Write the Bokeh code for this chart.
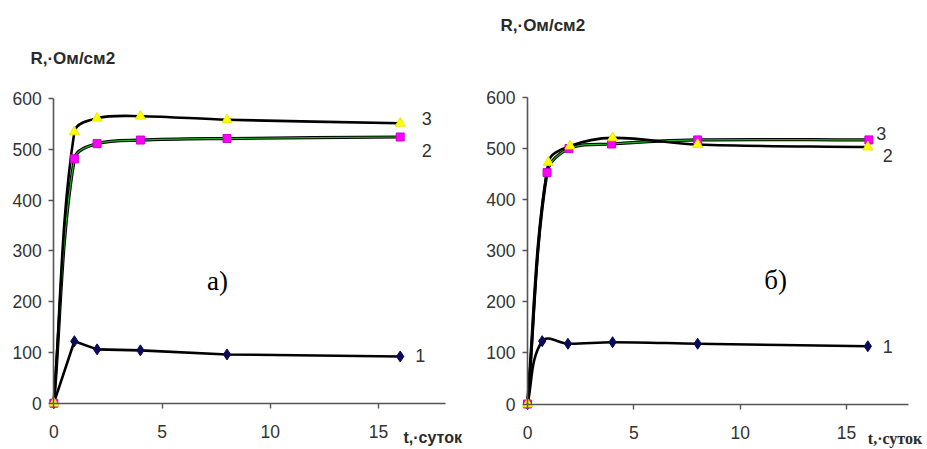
import math
from bokeh.plotting import figure
from bokeh.models import Range1d, Label, FixedTicker
from bokeh.layouts import row
from bokeh.embed import file_html
from bokeh.resources import INLINE

# ---------------- data ----------------
# panel a)
days_a = [0, 0.95, 2, 4, 8, 16]
r1_a = [0, 122, 106, 104, 96, 92]
r2_a = [0, 481, 511, 518, 521, 524]
r3_a = [0, 534, 561, 565, 558, 551]

# panel б)
days1_b = [0, 0.69, 1.9, 4, 8, 16]
r1_b = [0, 123, 118, 121, 118, 113]
days2_b = [0, 0.92, 1.95, 3.95, 8, 16.05]
r2_b = [0, 453, 500, 509, 517, 517]
days3_b = [0, 0.98, 2, 4, 8, 16]
r3_b = [0, 473, 505, 521, 508, 503]

x_ticks = [0, 5, 10, 15]
y_ticks = [0, 100, 200, 300, 400, 500, 600]
y_title = "R,·Ом/см2"
x_title = "t,·суток"
panel_names = ["а)", "б)"]
series_names = ["1", "2", "3"]

# ---------------- layout / style ----------------
H = 449
SANS = "Liberation Sans"
SERIF = "Liberation Serif"
TXT = "#333333"


def smooth(xs, ys, sx, sy, k=0.34):
    """Bezier segments (Excel-like smoothed line) computed in screen space."""
    P = [(x * sx, y * sy) for x, y in zip(xs, ys)]
    n = len(P)
    dirs = []
    for i in range(n):
        a = P[max(i - 1, 0)]
        b = P[min(i + 1, n - 1)]
        dx, dy = b[0] - a[0], b[1] - a[1]
        L = math.hypot(dx, dy) or 1.0
        dirs.append((dx / L, dy / L))
    d = dict(x0=[], y0=[], x1=[], y1=[], cx0=[], cy0=[], cx1=[], cy1=[])
    for i in range(n - 1):
        p, q = P[i], P[i + 1]
        L = math.hypot(q[0] - p[0], q[1] - p[1])
        c0 = (p[0] + dirs[i][0] * L * k, p[1] + dirs[i][1] * L * k)
        c1 = (q[0] - dirs[i + 1][0] * L * k, q[1] - dirs[i + 1][1] * L * k)
        d["x0"].append(p[0] / sx); d["y0"].append(p[1] / sy)
        d["x1"].append(q[0] / sx); d["y1"].append(q[1] / sy)
        d["cx0"].append(c0[0] / sx); d["cy0"].append(c0[1] / sy)
        d["cx1"].append(c1[0] / sx); d["cy1"].append(c1[1] / sy)
    return d


def make_panel(width, ox, oy, sx, sy, x_end):
    """ox, oy: pixel position of the data origin inside the figure; sx, sy: px per unit."""
    p = figure(width=width, height=H,
               x_range=Range1d(-ox / sx, (width - ox) / sx),
               y_range=Range1d(-(H - oy) / sy, oy / sy),
               output_backend="svg", toolbar_location=None,
               min_border_left=0, min_border_right=0,
               min_border_top=0, min_border_bottom=0)
    p.outline_line_color = None
    p.grid.visible = False
    p.background_fill_color = "white"
    p.border_fill_color = "white"
    for ax in (p.xaxis[0], p.yaxis[0]):
        ax.fixed_location = 0
        ax.axis_line_color = "#555555"
        ax.axis_line_width = 1.6
        ax.major_tick_line_color = "#555555"
        ax.major_tick_line_width = 1.4
        ax.major_tick_in = 0
        ax.major_tick_out = 5
        ax.minor_tick_line_color = None
        ax.major_label_text_font = SANS
        ax.major_label_text_font_size = "17.5px"
        ax.major_label_text_color = TXT
    p.xaxis.ticker = FixedTicker(ticks=x_ticks)
    p.yaxis.ticker = FixedTicker(ticks=y_ticks)
    p.xaxis.bounds = (0, x_end)
    p.yaxis.bounds = (0, 600)
    p.xaxis.major_label_standoff = 17
    p.yaxis.major_label_standoff = 7
    return p


def add_series(p, sx, sy, xs1, ys1, xs2, ys2, xs3, ys3, smooth1=True):
    if smooth1:
        p.bezier(source=smooth(xs1, ys1, sx, sy), x0="x0", y0="y0", x1="x1", y1="y1",
                 cx0="cx0", cy0="cy0", cx1="cx1", cy1="cy1", line_color="black", line_width=2.6)
    else:
        p.line(xs1, ys1, line_color="black", line_width=2.6)
    s2 = smooth(xs2, ys2, sx, sy)
    p.bezier(source=s2, x0="x0", y0="y0", x1="x1", y1="y1", cx0="cx0", cy0="cy0",
             cx1="cx1", cy1="cy1", line_color="black", line_width=3.2)
    p.bezier(source=s2, x0="x0", y0="y0", x1="x1", y1="y1", cx0="cx0", cy0="cy0",
             cx1="cx1", cy1="cy1", line_color="#22b022", line_width=1.2)
    p.bezier(source=smooth(xs3, ys3, sx, sy), x0="x0", y0="y0", x1="x1", y1="y1",
             cx0="cx0", cy0="cy0", cx1="cx1", cy1="cy1", line_color="black", line_width=2.6)
    p.scatter(xs1, ys1, marker="diamond", size=11, fill_color="#0a0a5a", line_color="#0a0a5a")
    p.scatter(xs2, ys2, marker="square", size=8, fill_color="#ff00ff", line_color="#cc00cc")
    p.scatter(xs3, ys3, marker="triangle", size=10, fill_color="#ffff00", line_color="#e8e800")


def label(p, x, y, text, size, font=SANS, style="normal", align="left", color=TXT):
    p.add_layout(Label(x=x, y=y, text=text, text_font=font, text_font_size=size,
                       text_font_style=style, text_color=color, text_align=align,
                       text_baseline="middle"))


# ---------------- panel a) ----------------
SXA, SYA = 21.65, 0.508
pa = make_panel(468, 53.3, 402.7, SXA, SYA, 18.09)
add_series(pa, SXA, SYA, days_a, r1_a, days_a, r2_a, days_a, r3_a, smooth1=False)
label(pa, -1.08, 678, y_title, "17px", style="bold", color="#2a2a2a")
label(pa, 16.15, -67, x_title, "16px", style="bold", color="#2a2a2a")
label(pa, 7.56, 241, panel_names[0], "27px", font=SERIF, align="center", color="black")
label(pa, 17.0, 560, series_names[2], "18px")
label(pa, 17.0, 497, series_names[1], "18px")
label(pa, 16.7, 94, series_names[0], "18px")

# ---------------- panel б) ----------------
SXB, SYB = 21.27, 0.5108
pb = make_panel(459, 59, 403.5, SXB, SYB, 17.9)
add_series(pb, SXB, SYB, days1_b, r1_b, days2_b, r2_b, days3_b, r3_b, smooth1=True)
label(pb, -1.27, 741, y_title, "17px", style="bold", color="#2a2a2a")
label(pb, 16.0, -67, x_title, "16px", font=SERIF, style="bold", color="#2a2a2a")
label(pb, 11.66, 243, panel_names[1], "27px", font=SERIF, align="center", color="black")
label(pb, 16.4, 529, series_names[2], "18px")
label(pb, 16.7, 486, series_names[1], "18px")
label(pb, 16.7, 113, series_names[0], "18px")

layout = row(pa, pb)
open("out.html", "w").write(file_html(layout, INLINE))
